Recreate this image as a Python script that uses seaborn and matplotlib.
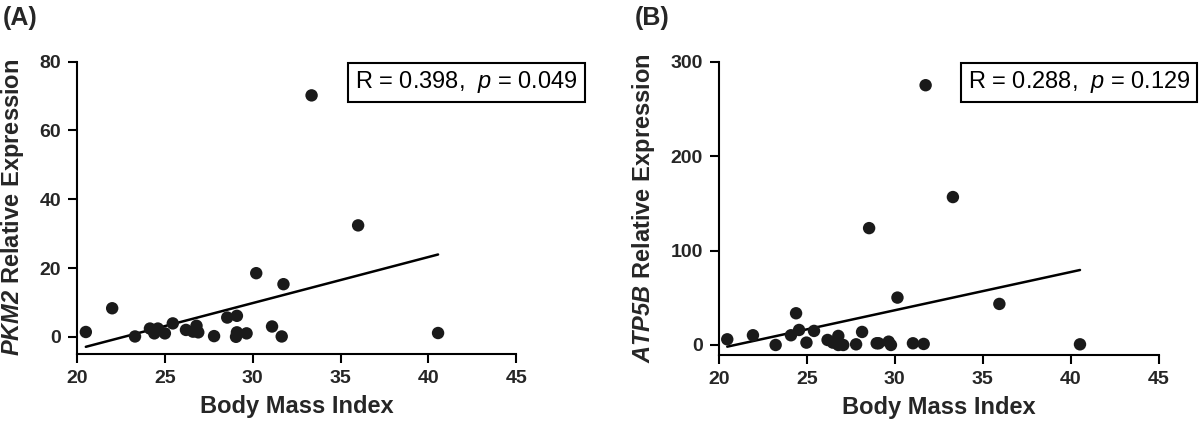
import matplotlib
matplotlib.use("Agg")
import matplotlib.pyplot as plt
import seaborn as sns
import pandas as pd
from matplotlib import font_manager

# ---- data ----
bmi_a = [20.5, 22.0, 23.3, 24.15, 24.4, 24.6, 25.0, 25.45, 26.2, 26.6, 26.8, 26.9,
         27.8, 28.55, 29.1, 29.05, 29.1, 29.65, 30.2, 31.1, 31.65, 31.75, 33.35, 36.0, 40.55]
pkm2 = [1.4, 8.3, 0.1, 2.4, 1.0, 2.4, 1.0, 3.9, 2.0, 1.5, 3.2, 1.3,
        0.2, 5.6, 6.1, 0.0, 1.3, 1.0, 18.5, 3.0, 0.1, 15.3, 70.2, 32.4, 1.1]

bmi_b = [20.48, 21.94, 23.23, 24.1, 24.39, 24.56, 24.98, 25.41, 26.18, 26.48, 26.79, 26.79,
         27.07, 27.8, 28.14, 28.54, 28.97, 29.08, 29.65, 29.78, 30.15, 31.03, 31.64, 31.75,
         33.3, 35.94, 40.52]
atp5b = [6.0, 10.3, 0.0, 10.3, 33.6, 15.9, 2.5, 14.9, 5.3, 2.5, 9.6, 0.0,
         0.0, 0.7, 13.8, 123.8, 1.8, 1.8, 3.5, 0.0, 50.2, 1.8, 1.1, 275.2,
         156.7, 43.5, 0.7]

panel_labels = ["(A)", "(B)"]
gene_names = ["PKM2", "ATP5B"]
stats_text = [("0.398", "0.049"), ("0.288", "0.129")]
xticks = [20, 25, 30, 35, 40, 45]
yticks_a = [0, 20, 40, 60, 80]
yticks_b = [0, 100, 200, 300]

installed = {f.name for f in font_manager.fontManager.ttflist}
narrow = "Liberation Sans Narrow" if "Liberation Sans Narrow" in installed else None

sns.set_theme(style="white")
plt.rcParams["font.family"] = ["Liberation Sans", "DejaVu Sans"]
plt.rcParams["mathtext.fontset"] = "custom"
plt.rcParams["mathtext.rm"] = "Liberation Sans"
plt.rcParams["mathtext.it"] = (narrow or "Liberation Sans") + ":italic"
plt.rcParams["mathtext.bf"] = "Liberation Sans:bold"
plt.rcParams["mathtext.bfit"] = "Liberation Sans:bold:italic"

fig = plt.figure(figsize=(12, 4.28), dpi=100)
ax_a = fig.add_axes([0.0642, 0.1729, 0.366, 0.683])
ax_b = fig.add_axes([0.599, 0.1706, 0.3667, 0.685])

df_a = pd.DataFrame({"bmi": bmi_a, "expr": pkm2})
df_b = pd.DataFrame({"bmi": bmi_b, "expr": atp5b})

ink = "#1a1a1a"
box_family = [narrow, "Liberation Sans", "DejaVu Sans"] if narrow else ["Liberation Sans", "DejaVu Sans"]
box_size = 20 if narrow else 17
setups = [
    (ax_a, df_a, yticks_a, (-5, 80), 0.633),
    (ax_b, df_b, yticks_b, (-10.6, 300), 0.566),
]
for i, (ax, df, yt, ylim, box_x) in enumerate(setups):
    sns.regplot(data=df, x="bmi", y="expr", ax=ax, ci=None, truncate=True,
                scatter_kws=dict(s=80, color=ink, edgecolor="none", alpha=1, zorder=3),
                line_kws=dict(color="black", lw=1.8, zorder=2))
    ax.set_xlim(20, 45)
    ax.set_ylim(*ylim)
    ax.set_xticks(xticks)
    ax.set_yticks(yt)
    for side in ["top", "right"]:
        ax.spines[side].set_visible(False)
    for side in ["left", "bottom"]:
        ax.spines[side].set_color("black")
        ax.spines[side].set_linewidth(1.5)
    ax.tick_params(axis="both", which="major", direction="out", length=6.5, width=1.5,
                   color="black", labelsize=14, pad=5, left=True, bottom=True)
    for lab in ax.get_xticklabels() + ax.get_yticklabels():
        lab.set_fontweight("bold")
    ax.set_xlabel("Body Mass Index", fontsize=17, fontweight="bold", labelpad=6)
    ax.set_ylabel(r"$\mathbfit{" + gene_names[i] + r"}$ Relative Expression",
                  fontsize=17, fontweight="bold", labelpad=10)
    r, p = stats_text[i]
    ax.text(box_x, 0.93, "R = " + r + r",  $\it{p}$ = " + p, transform=ax.transAxes,
            fontsize=box_size, family=box_family, va="center", ha="left", color="black",
            clip_on=False,
            bbox=dict(boxstyle="square,pad=0.28", fc="white", ec="black", lw=1.5))
    ax.grid(False)

fig.text(3 / 1200, 1 - 6 / 428, panel_labels[0], fontsize=18, fontweight="bold",
         ha="left", va="top")
fig.text(635 / 1200, 1 - 6 / 428, panel_labels[1], fontsize=18, fontweight="bold",
         ha="left", va="top")

fig.savefig("out.png", dpi=100)
